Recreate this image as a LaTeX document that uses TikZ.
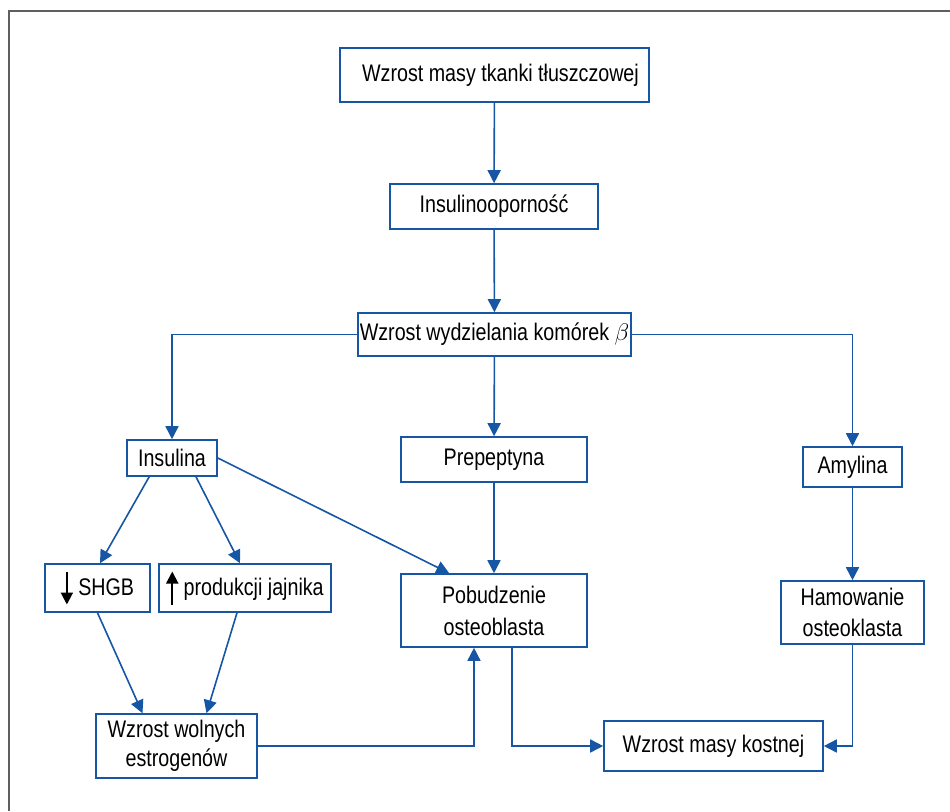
\documentclass[tikz,border=0pt]{standalone}
\usepackage{fontspec}
\setmainfont{Liberation Sans}[FakeStretch=0.82]
\usepackage{xcolor}
\usetikzlibrary{arrows.meta}
\usetikzlibrary{positioning}

\definecolor{flowblue}{RGB}{22,86,164}
\definecolor{framegray}{RGB}{95,95,95}
\newcommand{\arrdown}{\tikz[baseline=0pt]\draw[black, line width=1pt, -{Triangle[length=6pt,width=6pt]}] (0,12pt) -- (0,-4.5pt);}
\newcommand{\arrup}{\tikz[baseline=0pt]\draw[black, line width=1pt, -{Triangle[length=6pt,width=6pt]}] (0,-4.5pt) -- (0,12pt);}

\begin{document}
\begin{tikzpicture}[x=0.5pt, y=-0.5pt, font=\fontsize{12}{15.5}\selectfont,
    box/.style={draw=flowblue, line width=0.8pt, align=center, inner sep=0pt},
    link/.style={flowblue, line width=0.8pt, -{Triangle[length=6.5pt, width=6.5pt]}}]
  \useasboundingbox (0,0) rectangle (950,811);
  \draw[framegray, line width=1pt] (9,811) -- (9,11) -- (950,11);

  \node[box, minimum width=154.5pt, minimum height=27pt] (fat) at (494.5,75) {\hspace{6pt}Wzrost masy tkanki tłuszczowej};
  \node[box, minimum width=104pt, minimum height=22.5pt] (resist) at (494,206.5) {Insulinooporność};
  \node[box, minimum width=136.5pt, minimum height=21.5pt] (secr) at (494.5,334.5) {Wzrost wydzielania komórek $\beta$};
  \node[box, minimum width=45pt, minimum height=18pt] (insulin) at (172,458) {Insulina};
  \node[box, minimum width=93pt, minimum height=22.5pt] (prep) at (494,459.5) {Prepeptyna};
  \node[box, minimum width=49.5pt, minimum height=20pt] (amylin) at (852.5,467) {Amylina};
  \node[box, minimum width=52.5pt, minimum height=24pt] (shgb) at (97.5,588) {\arrdown\ SHGB};
  \node[box, minimum width=86pt, minimum height=24pt] (ovary) at (245,588) {\arrup\ produkcji jajnika};
  \node[box, minimum width=93pt, minimum height=36.5pt, font=\fontsize{12}{16}\selectfont] (blast) at (494,610.5) {Pobudzenie\\osteoblasta};
  \node[box, minimum width=71.5pt, minimum height=31.5pt] (clast) at (852.5,612.5) {Hamowanie\\osteoklasta};
  \node[box, minimum width=80.5pt, minimum height=32pt, font=\fontsize{12}{14.5}\selectfont] (estro) at (176.5,746) {Wzrost wolnych\\estrogenów};
  \node[box, minimum width=109.5pt, minimum height=25pt] (bone) at (713.5,746) {Wzrost masy kostnej};

  \draw[link] (fat) -- (resist);
  \draw[link] (resist) -- (secr);
  \draw[link] (secr.west) -| (insulin.north);
  \draw[link] (secr) -- (prep);
  \draw[link] (secr.east) -| (amylin.north);
  \draw[link] ([xshift=11.5pt]insulin.south west) -- ([xshift=1.25pt]shgb.north);
  \draw[link] ([xshift=12pt]insulin.south) -- ([xshift=-2.5pt]ovary.north);
  \draw[link] (insulin.east) -- ([xshift=24.5pt]blast.north west);
  \draw[link] (prep) -- (blast);
  \draw[link] (amylin) -- (clast);
  \draw[link] (shgb.south) -- ([xshift=-17pt]estro.north);
  \draw[link] ([xshift=-4pt]ovary.south) -- ([xshift=15pt]estro.north);
  \draw[link] (estro.east) -| ([xshift=-10pt]blast.south);
  \draw[link] ([xshift=9pt]blast.south) |- (bone.west);
  \draw[link] (clast.south) |- (bone.east);
\end{tikzpicture}
\end{document}
